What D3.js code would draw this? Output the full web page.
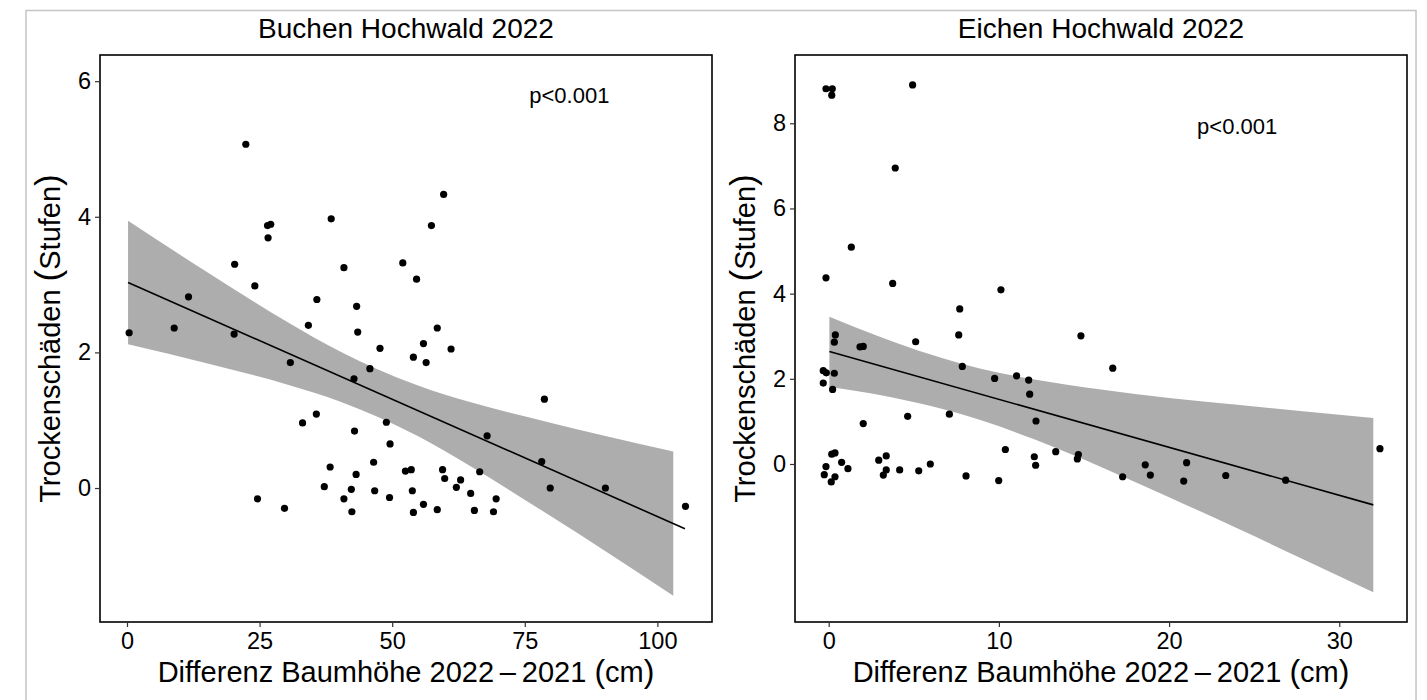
<!DOCTYPE html>
<html>
<head>
<meta charset="utf-8">
<script src="https://cdn.jsdelivr.net/npm/d3@7"></script>
<style>
  html, body { margin: 0; padding: 0; background: #fff; }
  svg { display: block; font-family: "Liberation Sans", Arial, sans-serif; }
</style>
</head>
<body>
<svg id="chart" width="1427" height="700"></svg>
<script>
// ---------- DATA ----------
const titles = ["Buchen Hochwald 2022", "Eichen Hochwald 2022"];
const pLabel = "p<0.001";

// Left panel (Buchen)
const buchenX = [0.4, 8.9, 11.6, 20.2, 20.3, 22.4, 24.1, 24.6, 26.5, 27.1, 26.6, 29.7, 30.8, 33.1, 34.2, 35.7, 35.8, 37.2, 38.3, 38.5,
  40.9, 40.9, 42.3, 42.4, 42.8, 42.9, 43.2, 43.3, 43.5, 45.8, 46.5, 46.7, 47.7, 48.9, 49.5, 49.6, 52.0, 52.5, 53.6, 53.8,
  54.0, 54.0, 54.6, 55.9, 55.9, 56.4, 57.4, 58.5, 58.5, 59.5, 59.7, 59.9, 61.1, 62.1, 62.9, 64.8, 65.5, 66.5, 67.9, 69.1,
  69.6, 78.2, 78.7, 79.8, 90.2, 105.3];
const buchenY = [2.29, 2.36, 2.82, 2.27, 3.30, 5.07, 2.98, -0.16, 3.87, 3.89, 3.69, -0.30, 1.85, 0.96, 2.40, 1.09, 2.78, 0.02, 0.31, 3.97,
  3.25, -0.16, -0.02, -0.35, 1.61, 0.84, 0.20, 2.68, 2.30, 1.76, 0.38, -0.04, 2.06, 0.97, -0.14, 0.65, 3.32, 0.25, 0.27, -0.04,
  1.93, -0.36, 3.08, 2.13, -0.24, 1.85, 3.87, 2.36, -0.32, 0.27, 4.33, 0.14, 2.05, 0.01, 0.12, -0.08, -0.33, 0.24, 0.77, -0.35,
  -0.16, 0.39, 1.31, 0.00, 0.00, -0.27];
const buchenFitX = [0.2, 105.2];
const buchenFitY = [3.03, -0.60];
const buchenBandX  = [0.2, 15, 30, 40, 47, 55, 65, 80, 90, 103];
const buchenBandLo = [2.12, 1.84, 1.53, 1.28, 1.06, 0.76, 0.31, -0.42, -0.92, -1.59];
const buchenBandHi = [3.94, 3.19, 2.46, 2.02, 1.76, 1.51, 1.26, 0.96, 0.77, 0.54];
const buchenXTicks = [0, 25, 50, 75, 100];
const buchenYTicks = [0, 2, 4, 6];
const buchenXDomain = [-5.09, 110.3];
const buchenYDomain = [-1.976, 6.386];
const buchenPPos = [83.4, 5.77];

// Right panel (Eichen)
const eichenX = [-0.16, 0.21, 0.18, 4.93, 3.91, 1.33, -0.16, 3.76, 10.12, 7.70, 7.64, 0.39, 0.33, 1.84, 2.03, 5.11, 7.85, 9.75, 11.04, -0.32,
  -0.14, 0.33, -0.32, 0.23, 2.03, 4.64, 7.09, 10.38, 0.18, 0.37, 0.76, 1.13, -0.16, -0.26, 0.37, 0.15, 2.94, 3.38, 3.38, 3.21,
  4.17, 5.29, 5.97, 8.07, 9.99, 14.82, 16.69, 11.75, 11.81, 12.18, 12.08, 12.16, 13.34, 14.67, 14.61, 17.27, 18.60, 18.90, 21.03, 20.86,
  23.33, 26.85, 32.39];
const eichenY = [8.81, 8.81, 8.66, 8.90, 6.95, 5.09, 4.37, 4.24, 4.09, 3.64, 3.03, 3.03, 2.86, 2.75, 2.76, 2.87, 2.29, 2.01, 2.07, 2.19,
  2.14, 2.13, 1.90, 1.75, 0.95, 1.12, 1.17, 0.34, 0.23, 0.26, 0.04, -0.11, -0.06, -0.25, -0.30, -0.42, 0.09, 0.19, -0.14, -0.26,
  -0.14, -0.16, 0.00, -0.28, -0.39, 3.01, 2.25, 1.97, 1.64, 1.01, 0.17, -0.03, 0.29, 0.22, 0.12, -0.30, -0.02, -0.26, 0.03, -0.40,
  -0.27, -0.38, 0.36];
const eichenFitX = [0.04, 32.0];
const eichenFitY = [2.64, -0.96];
const eichenBandX  = [0.04, 3, 6, 9, 12, 16, 20, 24, 28, 32];
const eichenBandLo = [1.81, 1.62, 1.36, 1.02, 0.59, -0.07, -0.78, -1.51, -2.26, -3.01];
const eichenBandHi = [3.46, 2.99, 2.57, 2.23, 1.99, 1.75, 1.55, 1.39, 1.23, 1.08];
const eichenXTicks = [0, 10, 20, 30];
const eichenYTicks = [0, 2, 4, 6, 8];
const eichenXDomain = [-1.98, 33.98];
const eichenYDomain = [-3.71, 9.603];
const eichenPPos = [24.0, 7.9];

// ---------- DRAW ----------
const svg = d3.select("#chart");

// outer light frame
svg.append("rect").attr("x", 26).attr("y", 10.5).attr("width", 1390).attr("height", 700)
  .attr("fill", "none").attr("stroke", "#c4c4c4").attr("stroke-width", 1.5);

const panels = [
  {title: titles[0], xs: buchenX, ys: buchenY, fitX: buchenFitX, fitY: buchenFitY,
   bx: buchenBandX, blo: buchenBandLo, bhi: buchenBandHi, xt: buchenXTicks, yt: buchenYTicks,
   xd: buchenXDomain, yd: buchenYDomain, p: buchenPPos, left: 100, right: 712},
  {title: titles[1], xs: eichenX, ys: eichenY, fitX: eichenFitX, fitY: eichenFitY,
   bx: eichenBandX, blo: eichenBandLo, bhi: eichenBandHi, xt: eichenXTicks, yt: eichenYTicks,
   xd: eichenXDomain, yd: eichenYDomain, p: eichenPPos, left: 795, right: 1407}
];
const panelTop = 55, panelBottom = 622;

panels.forEach(P => {
  const x = d3.scaleLinear().domain(P.xd).range([P.left, P.right]);
  const y = d3.scaleLinear().domain(P.yd).range([panelBottom, panelTop]);
  const g = svg.append("g");

  // ribbon
  const band = P.bx.map((v, i) => ({x: v, lo: P.blo[i], hi: P.bhi[i]}));
  g.append("path").datum(band)
    .attr("fill", "#adadad")
    .attr("d", d3.area().curve(d3.curveMonotoneX)
      .x(d => x(d.x)).y0(d => y(d.lo)).y1(d => y(d.hi)));

  // fit line
  const fit = P.fitX.map((v, i) => ({x: v, y: P.fitY[i]}));
  g.append("path").datum(fit)
    .attr("fill", "none").attr("stroke", "#000").attr("stroke-width", 1.6)
    .attr("d", d3.line().x(d => x(d.x)).y(d => y(d.y)));

  // points
  g.selectAll("circle.pt").data(P.xs.map((v, i) => ({x: v, y: P.ys[i]})))
    .join("circle").attr("class", "pt")
    .attr("cx", d => x(d.x)).attr("cy", d => y(d.y)).attr("r", 3.6).attr("fill", "#000");

  // panel border
  g.append("rect").attr("x", P.left).attr("y", panelTop)
    .attr("width", P.right - P.left).attr("height", panelBottom - panelTop)
    .attr("fill", "none").attr("stroke", "#000").attr("stroke-width", 1.6);

  // axes
  const xAxis = d3.axisBottom(x).tickValues(P.xt).tickSize(5).tickPadding(5).tickFormat(d3.format("d"));
  const gx = g.append("g").attr("transform", `translate(0,${panelBottom})`).call(xAxis);
  gx.select(".domain").remove();
  gx.selectAll(".tick line").attr("stroke", "#333").attr("stroke-width", 1.2);
  gx.selectAll(".tick text").attr("font-size", 23.5).attr("fill", "#000")
    .attr("font-family", "Liberation Sans, Arial, sans-serif").attr("dy", "0.71em");

  const yAxis = d3.axisLeft(y).tickValues(P.yt).tickSize(5).tickPadding(4).tickFormat(d3.format("d"));
  const gy = g.append("g").attr("transform", `translate(${P.left},0)`).call(yAxis);
  gy.select(".domain").remove();
  gy.selectAll(".tick line").attr("stroke", "#333").attr("stroke-width", 1.2);
  gy.selectAll(".tick text").attr("font-size", 23.5).attr("fill", "#000")
    .attr("font-family", "Liberation Sans, Arial, sans-serif");

  const cx = (P.left + P.right) / 2;
  // title
  g.append("text").attr("x", cx).attr("y", 38).attr("text-anchor", "middle")
    .attr("font-size", 28).attr("fill", "#000").text(P.title);

  // p label
  g.append("text").attr("x", x(P.p[0])).attr("y", y(P.p[1])).attr("dy", "0.3em")
    .attr("text-anchor", "middle").attr("font-size", 22).attr("fill", "#000").text(pLabel);

  // x title
  const xt = g.append("text").attr("x", cx).attr("y", 682).attr("text-anchor", "middle")
    .attr("font-size", 29).attr("fill", "#000");
  xt.append("tspan").text("Differenz Baumhöhe 2022\u2009\u2013\u20092021 ");
  xt.append("tspan").attr("font-size", 32).text("(");
  xt.append("tspan").text("cm");
  xt.append("tspan").attr("font-size", 32).text(")");

  // y title
  const cy = (panelTop + panelBottom) / 2;
  const yt = g.append("text").attr("transform", `translate(${P.left - 40},${cy}) rotate(-90)`)
    .attr("text-anchor", "middle").attr("font-size", 29).attr("fill", "#000");
  yt.append("tspan").text("Trockenschäden ");
  yt.append("tspan").attr("font-size", 35).text("(");
  yt.append("tspan").text("Stufen");
  yt.append("tspan").attr("font-size", 35).text(")");
});
</script>
</body>
</html>
